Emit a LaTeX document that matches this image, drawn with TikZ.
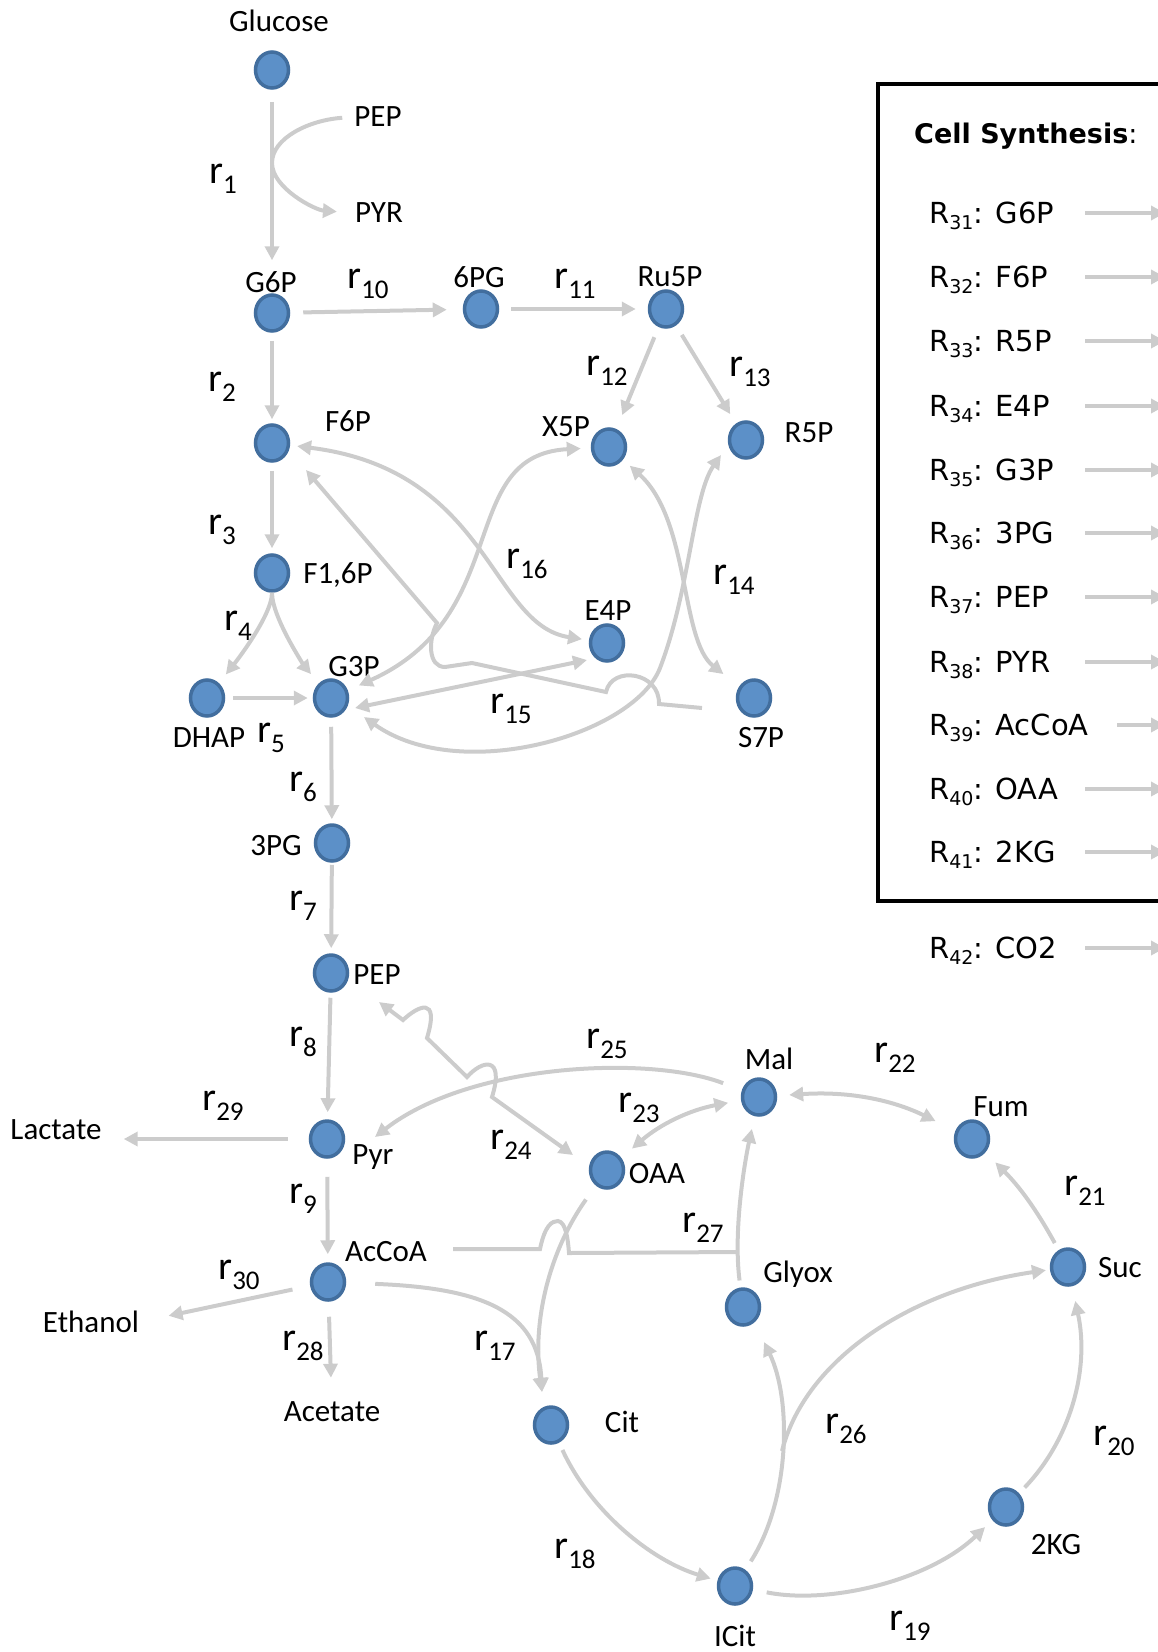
\documentclass[tikz,border=0pt]{standalone}
\usepackage{fontspec}
\setmainfont{Carlito}
\newfontfamily\legendfont{DejaVu Sans}
\usetikzlibrary{arrows.meta,calc,shapes.geometric}
\definecolor{fluxgray}{RGB}{204,204,204}
\definecolor{metfill}{RGB}{92,144,200}
\definecolor{metline}{RGB}{66,110,158}
\newcommand{\rxn}[1]{r\raisebox{-10pt}{\fontsize{27}{27}\selectfont #1}}
\newcommand{\csyn}[2]{R\raisebox{-6pt}[0pt][0pt]{\fontsize{19}{19}\selectfont #1}: #2}

\begin{document}
\begin{tikzpicture}[
    x=1pt, y=-1pt,
    met/.style={ellipse, draw=metline, fill=metfill, line width=3.5pt, minimum width=33pt, minimum height=36pt, inner sep=0pt},
    lbl/.style={font=\fontsize{31}{31}\selectfont, inner sep=0pt},
    rlbl/.style={font=\fontsize{40}{40}\selectfont, inner sep=0pt},
    leg/.style={font=\legendfont\fontsize{29}{29}\selectfont, inner sep=0pt, anchor=west},
    flux/.style={draw=fluxgray, line width=4pt},
    >={Triangle[length=14pt,width=14pt]}
]
  \useasboundingbox (0,0) rectangle (1158,1652);

  \node[met] (glc) at (272,70) {};
  \node[met] (g6p) at (272,313) {};
  \node[met] (pg6) at (481,309) {};
  \node[met] (ru5p) at (666,309) {};
  \node[met] (f6p) at (272,443) {};
  \node[met] (x5p) at (609,447) {};
  \node[met] (r5p) at (746,440) {};
  \node[met] (f16p) at (272,573) {};
  \node[met] (e4p) at (607,643) {};
  \node[met] (dhap) at (207,698) {};
  \node[met] (g3p) at (331,698) {};
  \node[met] (s7p) at (754,698) {};
  \node[met] (pg3) at (332,843) {};
  \node[met] (pep) at (331,973) {};
  \node[met] (pyr) at (327,1139) {};
  \node[met] (accoa) at (328,1282) {};
  \node[met] (oaa) at (607,1170) {};
  \node[met] (mal) at (759,1097) {};
  \node[met] (fum) at (972,1139) {};
  \node[met] (suc) at (1068,1267) {};
  \node[met] (glyox) at (743,1307) {};
  \node[met] (cit) at (551,1425) {};
  \node[met] (icit) at (735,1586) {};
  \node[met] (kg2) at (1006,1507) {};

  \node[lbl] (glctxt) at (279,21) {Glucose};
  \node[lbl] (pepin) at (378,117) {PEP};
  \node[lbl] (pyrout) at (379,213) {PYR};
  \node[lbl] (g6ptxt) at (271,282) {G6P};
  \node[lbl] (pg6txt) at (479,277) {6PG};
  \node[lbl] (ru5ptxt) at (670,277) {Ru5P};
  \node[lbl] (f6ptxt) at (348,421) {F6P};
  \node[lbl] (x5ptxt) at (566,427) {X5P};
  \node[lbl] (r5ptxt) at (809,433) {R5P};
  \node[lbl] (f16ptxt) at (338,575) {F1,6P};
  \node[lbl] (e4ptxt) at (608,611) {E4P};
  \node[lbl] (g3ptxt) at (354,667) {G3P};
  \node[lbl] (dhaptxt) at (209,738) {DHAP};
  \node[lbl] (s7ptxt) at (761,738) {S7P};
  \node[lbl] (pg3txt) at (276,846) {3PG};
  \node[lbl] (peptxt) at (377,975) {PEP};
  \node[lbl] (pyrtxt) at (373,1157) {Pyr};
  \node[lbl] (acctxt) at (386,1252) {AcCoA};
  \node[lbl] (lac) at (56,1130) {Lactate};
  \node[lbl] (eth) at (91,1322) {Ethanol};
  \node[lbl] (acet) at (332,1412) {Acetate};
  \node[lbl] (maltxt) at (769,1059) {Mal};
  \node[lbl] (fumtxt) at (1001,1107) {Fum};
  \node[lbl] (oaatxt) at (657,1174) {OAA};
  \node[lbl] (glyoxtxt) at (798,1274) {Glyox};
  \node[lbl] (suctxt) at (1120,1268) {Suc};
  \node[lbl] (cittxt) at (622,1422) {Cit};
  \node[lbl] (icittxt) at (735,1636) {ICit};
  \node[lbl] (kg2txt) at (1056,1545) {2KG};

  \node[rlbl] (r1) at (223,179) {\rxn{1}};
  \node[rlbl] (r2) at (222,387) {\rxn{2}};
  \node[rlbl] (r3) at (222,530) {\rxn{3}};
  \node[rlbl] (r4) at (238,626) {\rxn{4}};
  \node[rlbl] (r5) at (271,738) {\rxn{5}};
  \node[rlbl] (r6) at (303,787) {\rxn{6}};
  \node[rlbl] (r7) at (303,906) {\rxn{7}};
  \node[rlbl] (r8) at (303,1042) {\rxn{8}};
  \node[rlbl] (r9) at (303,1199) {\rxn{9}};
  \node[rlbl] (r10) at (368,284) {\rxn{10}};
  \node[rlbl] (r11) at (575,284) {\rxn{11}};
  \node[rlbl] (r12) at (607,371) {\rxn{12}};
  \node[rlbl] (r13) at (750,372) {\rxn{13}};
  \node[rlbl] (r14) at (734,580) {\rxn{14}};
  \node[rlbl] (r15) at (511,709) {\rxn{15}};
  \node[rlbl] (r16) at (527,564) {\rxn{16}};
  \node[rlbl] (r17) at (495,1346) {\rxn{17}};
  \node[rlbl] (r18) at (575,1554) {\rxn{18}};
  \node[rlbl] (r19) at (910,1626) {\rxn{19}};
  \node[rlbl] (r20) at (1114,1441) {\rxn{20}};
  \node[rlbl] (r21) at (1085,1191) {\rxn{21}};
  \node[rlbl] (r22) at (895,1058) {\rxn{22}};
  \node[rlbl] (r23) at (639,1108) {\rxn{23}};
  \node[rlbl] (r24) at (511,1145) {\rxn{24}};
  \node[rlbl] (r25) at (607,1044) {\rxn{25}};
  \node[rlbl] (r26) at (846,1429) {\rxn{26}};
  \node[rlbl] (r27) at (703,1228) {\rxn{27}};
  \node[rlbl] (r28) at (303,1346) {\rxn{28}};
  \node[rlbl] (r29) at (223,1106) {\rxn{29}};
  \node[rlbl] (r30) at (239,1275) {\rxn{30}};

  \coordinate (r1j) at (272,163);
  \coordinate (r26j) at (782,1451);
  \coordinate (r27j) at (738,1252);

  \draw[flux,->,shorten <=12pt,shorten >=33pt] (glc) -- (g6p);
  \draw[flux,->,shorten <=12pt,shorten >=18pt] (pepin.west) .. controls +(-45,3) and +(0,-25) .. (r1j) .. controls +(0,25) and +(-40,-3) .. (pyrout.west);
  \draw[flux,->,shorten <=13pt,shorten >=16pt] (g6p) -- (pg6);
  \draw[flux,->,shorten <=12pt,shorten >=12pt] (pg6) -- (ru5p);
  \draw[flux,->,shorten <=8pt,shorten >=4pt] (g6p) -- (f6p);
  \draw[flux,->,shorten <=11pt,shorten >=15pt] (ru5p) -- (x5p);
  \draw[flux,->,shorten <=11pt,shorten >=11pt] (ru5p) -- (r5p);
  \draw[flux,->,shorten <=8pt,shorten >=5pt] (f6p) -- (f16p);
  \draw[flux,->,shorten >=11pt] (f16p) .. controls +(0,45) and +(20,-25) .. (dhap);
  \draw[flux,->,shorten >=12pt] (f16p) .. controls +(0,45) and +(-25,-30) .. (g3p);
  \draw[flux,->,shorten <=8pt,shorten >=5pt] (dhap) -- (g3p);
  \draw[flux,->,shorten <=9pt,shorten >=4pt] (g3p) -- (pg3);
  \draw[flux,->,shorten <=2pt,shorten >=5pt] (pg3) -- (pep);
  \draw[flux,->,shorten <=5pt,shorten >=7pt] (pep) -- (pyr);
  \draw[flux,->,shorten <=18pt,shorten >=8pt] (pyr) -- (accoa);
  \draw[flux,->,shorten <=21pt,shorten >=22pt] (pyr) -- (pyr -| lac.east);
  \draw[flux,->,shorten <=18pt,shorten >=30pt] (accoa) -- (eth.east);
  \draw[flux,->,shorten <=15pt,shorten >=24pt] (accoa) -- (acet);

  \draw[flux,<->,shorten <=7pt,shorten >=7pt] (f6p) .. controls (490,470) and (490,625) .. (e4p);
  \draw[flux,<->,shorten <=10pt,shorten >=12pt] (x5p) .. controls (455,455) and (515,615) .. (g3p);
  \draw[flux,<->] ($(g3p)+(24,10)$) -- ($(e4p)+(-20,17)$);
  \draw[flux,->] ($(s7p)+(-52,10)$) -- (659,704) .. controls (660,672) and (612,665) .. (606,692) -- (472,663) -- (445,667) .. controls (428,667) and (428,640) .. (437,623) -- ($(f6p)+(34,27)$);
  \draw[flux,<->,shorten <=9pt,shorten >=20pt] (x5p) .. controls (690,520) and (680,640) .. (s7p);
  \draw[flux,<->] ($(r5p)+(-25,15)$) .. controls (693,495) and (690,590) .. (660,668) .. controls (634,735) and (460,785) .. ($(g3p)+(33,19)$);

  \draw[flux,<->] ($(pep)+(48,29)$) -- (403,1020) .. controls (418,1006) and (440,995) .. (427,1038) -- (467,1077) .. controls (482,1060) and (505,1055) .. (492,1097) -- ($(oaa)+(-34,-15)$);
  \draw[flux,->,shorten <=20pt] (mal) .. controls (650,1055) and (470,1063) .. ($(pyr)+(48,-2)$);
  \draw[flux,->,shorten <=29pt] (accoa) .. controls (480,1288) and (538,1310) .. ($(cit)+(-9,-33)$);
  \draw[flux,->,shorten <=17pt] (oaa) .. controls (550,1250) and (532,1320) .. ($(cit)+(-9,-33)$);
  \draw[flux] ($(acctxt.east)+(26,-3)$) -- (540,1249) .. controls (545,1225) and (552,1221) .. (558,1221) .. controls (566,1222) and (568,1240) .. (569,1253) -- (r27j);
  \draw[flux,->,shorten <=7pt,shorten >=13pt] (glyox) .. controls (733,1230) and (745,1160) .. (mal);
  \draw[flux,<->,shorten <=14pt,shorten >=13pt] (oaa) to[bend left=15] (mal);
  \draw[flux,<->,shorten <=12pt,shorten >=22pt] (mal) to[bend left=15] (fum);
  \draw[flux,->,shorten <=8pt,shorten >=14pt] (suc) to[bend right=8] (fum);
  \draw[flux,->,shorten <=8pt,shorten >=15pt] (kg2) .. controls (1070,1440) and (1090,1370) .. (suc);
  \draw[flux,->,shorten <=14pt,shorten >=10pt] (icit) .. controls (830,1605) and (930,1580) .. (kg2);
  \draw[flux,->,shorten <=8pt,shorten >=7pt] (cit) .. controls (590,1510) and (650,1560) .. (icit);
  \draw[flux,->,shorten <=10pt] (icit) .. controls (790,1500) and (792,1400) .. ($(glyox)+(21,35)$);
  \draw[flux,->,shorten >=4pt] (r26j) .. controls (805,1360) and (910,1290) .. (suc);

  \draw[line width=3.5pt] (878,84) rectangle (1200,901);
  \coordinate (arrin) at (1085,0);
  \coordinate (arrin39) at (1117,0);
  \coordinate (arrout) at (1165,0);
  \node[leg, font=\legendfont\fontsize{27}{27}\selectfont] (cshead) at (914,136) {{\bfseries Cell Synthesis}:};
  \node[leg] (l31) at (929,213) {\csyn{31}{G6P}};
  \node[leg] (l32) at (929,277) {\csyn{32}{F6P}};
  \node[leg] (l33) at (929,341) {\csyn{33}{R5P}};
  \node[leg] (l34) at (929,406) {\csyn{34}{E4P}};
  \node[leg] (l35) at (929,470) {\csyn{35}{G3P}};
  \node[leg] (l36) at (929,533) {\csyn{36}{3PG}};
  \node[leg] (l37) at (929,597) {\csyn{37}{PEP}};
  \node[leg] (l38) at (929,662) {\csyn{38}{PYR}};
  \node[leg] (l39) at (929,725) {\csyn{39}{AcCoA}};
  \node[leg] (l40) at (929,789) {\csyn{40}{OAA}};
  \node[leg] (l41) at (929,852) {\csyn{41}{2KG}};
  \node[leg] (l42) at (929,948) {\csyn{42}{CO2}};
  \draw[flux,->] (l31 -| arrin) -- (l31 -| arrout);
  \draw[flux,->] (l32 -| arrin) -- (l32 -| arrout);
  \draw[flux,->] (l33 -| arrin) -- (l33 -| arrout);
  \draw[flux,->] (l34 -| arrin) -- (l34 -| arrout);
  \draw[flux,->] (l35 -| arrin) -- (l35 -| arrout);
  \draw[flux,->] (l36 -| arrin) -- (l36 -| arrout);
  \draw[flux,->] (l37 -| arrin) -- (l37 -| arrout);
  \draw[flux,->] (l38 -| arrin) -- (l38 -| arrout);
  \draw[flux,->] (l39 -| arrin39) -- (l39 -| arrout);
  \draw[flux,->] (l40 -| arrin) -- (l40 -| arrout);
  \draw[flux,->] (l41 -| arrin) -- (l41 -| arrout);
  \draw[flux,->] (l42 -| arrin) -- (l42 -| arrout);
\end{tikzpicture}
\end{document}
